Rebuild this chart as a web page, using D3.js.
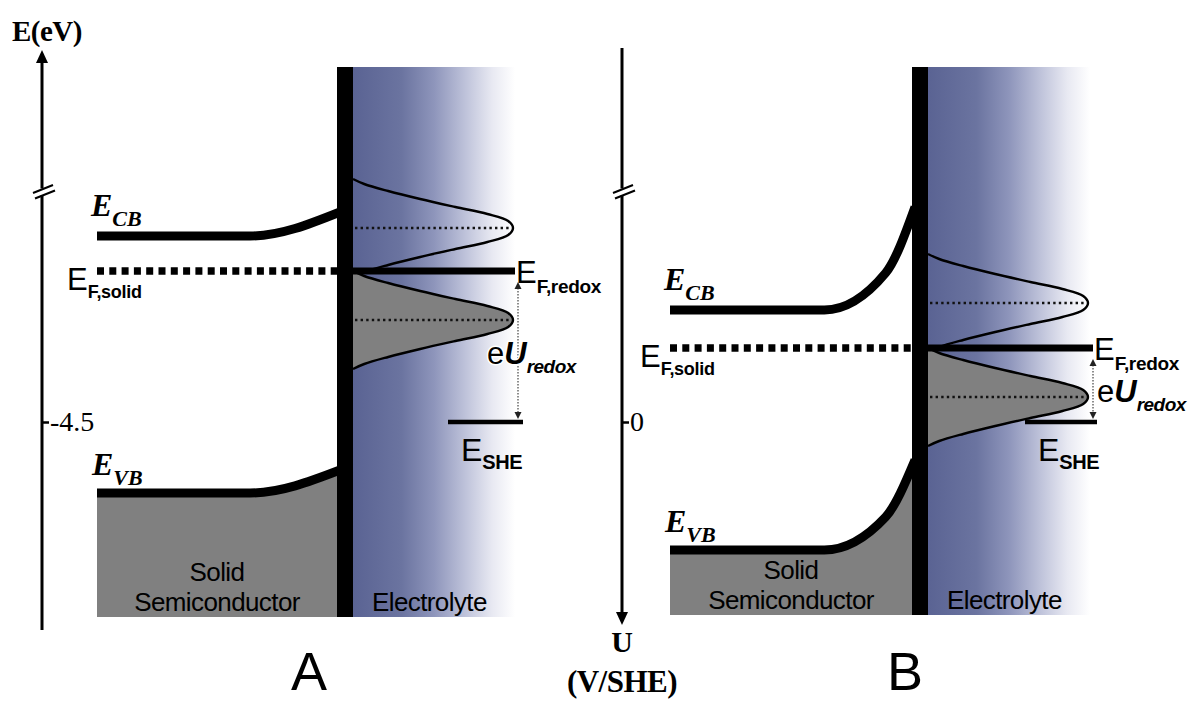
<!DOCTYPE html>
<html><head><meta charset="utf-8">
<script src="https://cdn.jsdelivr.net/npm/d3@7"></script>
<style>body{margin:0;background:#fff}svg{display:block}</style>
</head><body>
<script>
// ---------------- data ----------------
const panelNames = ["A", "B"];
const tickLabels = ["-4.5", "0"];
const tickValues = [-4.5, 0];          // A: E (eV), B: U (V/SHE)
const fermiSolid = [-2.99, -0.74];     // E_F,solid = E_F,redox
const oxCentre   = [-2.56, -1.19];     // centre of empty redox states
const redCentre  = [-3.48, -0.25];     // centre of filled redox states
const sheLevel   = [-4.5, 0];          // E_SHE
// band profiles: [depth fraction (bulk -> surface), level]
const cbProfiles = [
  [[0, -2.64], [0.63, -2.64], [1, -2.40]],
  [[0, -1.12], [0.63, -1.12], [0.88, -1.49], [1, -2.15]]
];
const vbProfiles = [
  [[0, -5.21], [0.63, -5.21], [1, -4.98]],
  [[0, 1.28], [0.63, 1.28], [0.88, 0.95], [1, 0.38]]
];
// density-of-states shape: [offset below centre, relative density]
const dosShape = [[-0.49,0],[-0.44,0.07],[-0.37,0.22],[-0.29,0.42],[-0.21,0.64],[-0.14,0.84],[-0.07,0.97],[0,1],
                  [0.07,0.97],[0.14,0.84],[0.21,0.64],[0.29,0.42],[0.37,0.22],[0.44,0.07],[0.49,0]];
const gradStops = [[0,"#5a6393"],[0.3,"#6b74a0"],[0.5,"#8e95bb"],[0.7,"#c0c4db"],[0.86,"#e8e9f2"],[1,"#ffffff"]];

// ---------------- layout ----------------
const W = 1191, H = 702;
const SANS = "'Liberation Sans', Arial, sans-serif";
const SERIF = "'Liberation Serif', 'Times New Roman', serif";
const layout = [
  {axisX:42, axisTop:50, axisBot:630, arrowUp:true, semiX0:97, barX:337, barW:16, barTop:67, barBot:617,
   redoxEnd:515, sheX:[448,523], arrowX:518, eUdx:-31, letterX:309, dir:-1,
   y: d3.scaleLinear().domain([-4.5, -2.5]).range([422, 222])},
  {axisX:622, axisTop:48, axisBot:625, arrowUp:false, semiX0:670, barX:912, barW:16, barTop:67, barBot:615,
   redoxEnd:1093, sheX:[1025,1097], arrowX:1093, eUdx:4, letterX:905, dir:1,
   y: d3.scaleLinear().domain([0, -2]).range([422, 222])}
];

const svg = d3.select("body").append("svg").attr("width", W).attr("height", H);
const defs = svg.append("defs");
const grad = defs.append("linearGradient").attr("id", "elGrad")
  .attr("x1", 0).attr("x2", 1).attr("y1", 0).attr("y2", 0);
gradStops.forEach(([o, c]) => grad.append("stop").attr("offset", o).attr("stop-color", c));

function rich(g, x, y, parts, anchor) {
  const t = g.append("text").attr("x", x).attr("y", y).attr("text-anchor", anchor || "start");
  parts.forEach(p => {
    t.append("tspan").attr("y", y + (p.dy || 0)).text(p.t)
      .attr("font-family", p.f).attr("font-size", p.s)
      .attr("font-weight", p.w || "normal").attr("font-style", p.i ? "italic" : "normal")
      .attr("letter-spacing", p.ls || 0);
  });
  return t;
}

layout.forEach((L, i) => {
  const g = svg.append("g");
  const y = L.y;
  const x = d3.scaleLinear().domain([0, 1]).range([L.semiX0, L.barX + 3]);
  const elX0 = L.barX + L.barW;
  const dx = d3.scaleLinear().domain([0, 1]).range([elX0, elX0 + 160]);
  const yEF = y(fermiSolid[i]);

  // electrolyte
  g.append("rect").attr("x", elX0).attr("y", L.barTop).attr("width", 162)
    .attr("height", L.barBot - L.barTop).attr("fill", "url(#elGrad)");

  // redox density of states
  defs.append("clipPath").attr("id", "cu" + i).append("rect")
    .attr("x", 0).attr("y", 0).attr("width", W).attr("height", yEF);
  defs.append("clipPath").attr("id", "cl" + i).append("rect")
    .attr("x", 0).attr("y", yEF).attr("width", W).attr("height", H - yEF);
  const dosLine = c => d3.line().x(d => dx(d[1])).y(d => y(c + L.dir * d[0])).curve(d3.curveCatmullRom);
  const dosArea = c => d3.area().y(d => y(c + L.dir * d[0])).x0(dx(0)).x1(d => dx(d[1])).curve(d3.curveCatmullRom);
  g.append("path").attr("clip-path", `url(#cl${i})`).attr("d", dosArea(redCentre[i])(dosShape)).attr("fill", "#808080");
  g.append("path").attr("clip-path", `url(#cl${i})`).attr("d", dosLine(redCentre[i])(dosShape))
    .attr("fill", "none").attr("stroke", "#000").attr("stroke-width", 2.4);
  g.append("path").attr("clip-path", `url(#cu${i})`).attr("d", dosLine(oxCentre[i])(dosShape))
    .attr("fill", "none").attr("stroke", "#000").attr("stroke-width", 2.4);
  [oxCentre[i], redCentre[i]].forEach(c => {
    g.append("line").attr("x1", dx(0) + 2).attr("x2", dx(1) - 4).attr("y1", y(c)).attr("y2", y(c))
      .attr("stroke", "#111").attr("stroke-width", 2.4).attr("stroke-dasharray", "2.4,3.2");
  });

  // valence band fill + lines
  g.append("path").attr("d", d3.area().x(d => x(d[0])).y0(L.barBot).y1(d => y(d[1])).curve(d3.curveMonotoneX)(vbProfiles[i]))
    .attr("fill", "#808080");
  [vbProfiles[i], cbProfiles[i]].forEach(p => {
    g.append("path").attr("d", d3.line().x(d => x(d[0])).y(d => y(d[1])).curve(d3.curveMonotoneX)(p))
      .attr("fill", "none").attr("stroke", "#000").attr("stroke-width", 9);
  });

  // Fermi levels
  g.append("line").attr("x1", L.semiX0).attr("x2", L.barX).attr("y1", yEF).attr("y2", yEF)
    .attr("stroke", "#000").attr("stroke-width", 7.5).attr("stroke-dasharray", "7,5.3");
  g.append("line").attr("x1", elX0).attr("x2", L.redoxEnd).attr("y1", yEF).attr("y2", yEF)
    .attr("stroke", "#000").attr("stroke-width", 7);

  // interface bar
  g.append("rect").attr("x", L.barX).attr("y", L.barTop).attr("width", L.barW)
    .attr("height", L.barBot - L.barTop).attr("fill", "#000");

  // SHE level and eU arrow
  const ySHE = y(sheLevel[i]);
  g.append("line").attr("x1", L.sheX[0]).attr("x2", L.sheX[1]).attr("y1", ySHE).attr("y2", ySHE)
    .attr("stroke", "#000").attr("stroke-width", 4.5);
  const aT = yEF + 11, aB = ySHE - 3;
  g.append("line").attr("x1", L.arrowX).attr("x2", L.arrowX).attr("y1", aT + 6).attr("y2", aB - 6)
    .attr("stroke", "#444").attr("stroke-width", 1.2).attr("stroke-dasharray", "1.5,1.5");
  g.append("path").attr("d", `M${L.arrowX},${aT}l-3.5,7h7z`).attr("fill", "#222");
  g.append("path").attr("d", `M${L.arrowX},${aB}l-3.5,-7h7z`).attr("fill", "#222");

  // labels
  const cbY = y(cbProfiles[i][0][1]), vbY = y(vbProfiles[i][0][1]);
  rich(g, L.semiX0 - 6, cbY - 20, [{t:"E", f:SERIF, s:32, w:"bold", i:true}, {t:"CB", f:SERIF, s:22, w:"bold", i:true, dy:10}]);
  rich(g, L.semiX0 - 5, vbY - 18, [{t:"E", f:SERIF, s:32, w:"bold", i:true}, {t:"VB", f:SERIF, s:22, w:"bold", i:true, dy:10}]);
  rich(g, L.semiX0 - 30, yEF + 19, [{t:"E", f:SANS, s:31}, {t:"F,solid", f:SANS, s:18, w:"bold", ls:-0.3, dy:8}]);
  rich(g, L.redoxEnd + 1, yEF + 12, [{t:"E", f:SANS, s:31}, {t:"F,redox", f:SANS, s:19, w:"bold", ls:-0.3, dy:10}]);
  rich(g, L.sheX[0] + 13, ySHE + 39, [{t:"E", f:SANS, s:32}, {t:"SHE", f:SANS, s:20, w:"bold", ls:-0.5, dy:8}]);
  rich(g, L.arrowX + L.eUdx, (yEF + ySHE) / 2 + 17, [{t:"e", f:SANS, s:31}, {t:"U", f:SANS, s:31, w:"bold", i:true},
    {t:"redox", f:SANS, s:19, w:"bold", i:true, ls:-0.5, dy:9}])
    .style("paint-order", "stroke").attr("stroke", "#fff").attr("stroke-width", 3);
  const midX = (L.semiX0 + L.barX) / 2;
  rich(g, midX, L.barBot - 36, [{t:"Solid", f:SANS, s:26, ls:-0.6}], "middle");
  rich(g, midX, L.barBot - 6, [{t:"Semiconductor", f:SANS, s:26, ls:-0.6}], "middle");
  rich(g, elX0 + 19, L.barBot - 6, [{t:"Electrolyte", f:SANS, s:26, ls:-0.6}]);
  rich(g, L.letterX, 690, [{t:panelNames[i], f:SANS, s:54}], "middle");

  // energy / potential axis
  const ax = svg.append("g");
  const lineTop = L.arrowUp ? L.axisTop + 11 : L.axisTop;
  const lineBot = L.arrowUp ? L.axisBot : L.axisBot - 11;
  ax.append("line").attr("x1", L.axisX).attr("x2", L.axisX).attr("y1", lineTop).attr("y2", 188.5)
    .attr("stroke", "#000").attr("stroke-width", 3);
  ax.append("line").attr("x1", L.axisX).attr("x2", L.axisX).attr("y1", 195.5).attr("y2", lineBot)
    .attr("stroke", "#000").attr("stroke-width", 3);
  ax.append("line").attr("x1", L.axisX - 9).attr("y1", 193).attr("x2", L.axisX + 11).attr("y2", 185)
    .attr("stroke", "#000").attr("stroke-width", 2);
  ax.append("line").attr("x1", L.axisX - 7).attr("y1", 198.5).attr("x2", L.axisX + 13).attr("y2", 190.5)
    .attr("stroke", "#000").attr("stroke-width", 2);
  if (L.arrowUp) ax.append("path").attr("d", `M${L.axisX},${L.axisTop}l-6,13h12z`).attr("fill", "#000");
  else ax.append("path").attr("d", `M${L.axisX},${L.axisBot}l-6,-13h12z`).attr("fill", "#000");
  const tk = ax.append("g").attr("transform", `translate(${L.axisX},0)`)
    .call(d3.axisRight(y).tickValues([tickValues[i]]).tickFormat(() => tickLabels[i]).tickSize(7).tickPadding(1));
  tk.select(".domain").remove();
  tk.selectAll("line").attr("stroke", "#000").attr("stroke-width", 2.5);
  tk.selectAll("text").attr("font-family", SERIF).attr("font-size", 28).attr("fill", "#000");
});

// axis titles
rich(svg, 12, 41, [{t:"E(eV)", f:SERIF, s:29, w:"bold", ls:-0.5}]);
rich(svg, 622, 652, [{t:"U", f:SERIF, s:30, w:"bold"}], "middle");
rich(svg, 622, 692, [{t:"(V/SHE)", f:SERIF, s:31, w:"bold", ls:-0.5}], "middle");
</script>
</body></html>
